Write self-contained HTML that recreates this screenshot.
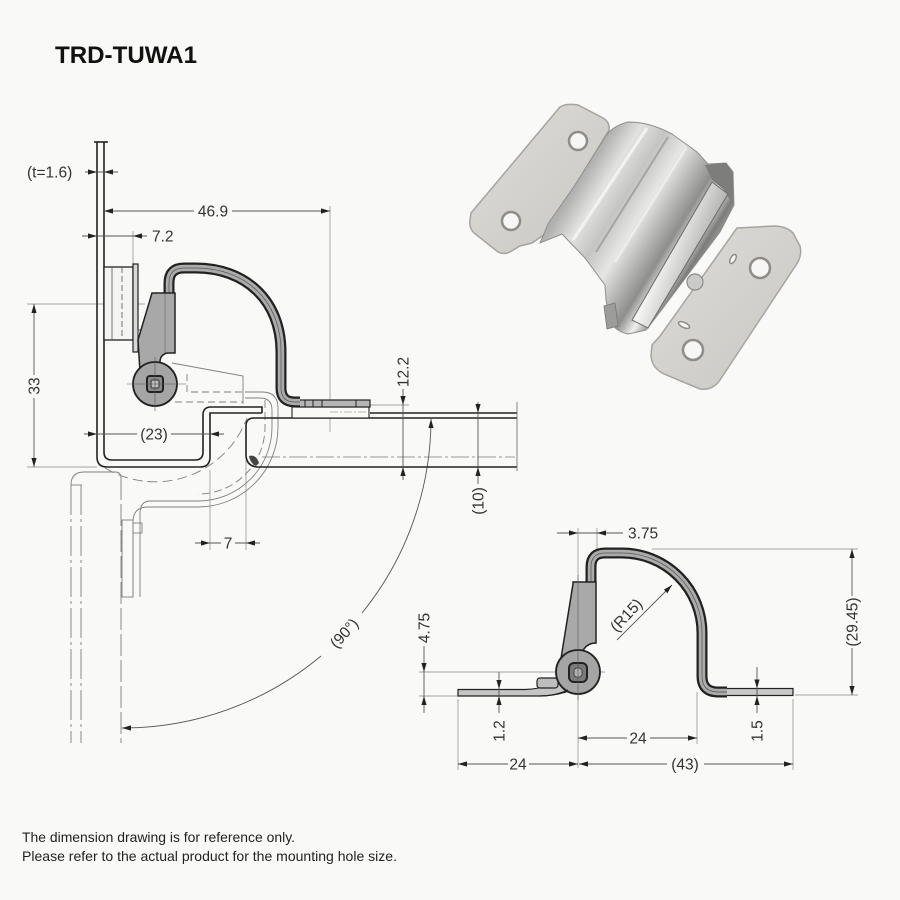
<!DOCTYPE html>
<html><head><meta charset="utf-8">
<style>
html,body{margin:0;padding:0;background:#f9f9f7;}
svg{display:block;}
.t{font-family:"Liberation Sans",Arial,sans-serif;font-size:15.5px;fill:#333;}
.ttl{font-family:"Liberation Sans",Arial,sans-serif;font-size:24px;font-weight:bold;fill:#111;}
.nt{font-family:"Liberation Sans",Arial,sans-serif;font-size:14px;fill:#222;}
.dim{stroke:#555;stroke-width:0.9;fill:none;}
.ext{stroke:#888;stroke-width:0.7;fill:none;}
.ln{stroke:#222;stroke-width:1.6;fill:none;}
.ph{stroke:#808080;stroke-width:0.9;fill:none;}
.ar{fill:#222;}
</style></head><body>
<svg width="900" height="900" viewBox="0 0 900 900" xmlns="http://www.w3.org/2000/svg">
<defs>
<linearGradient id="plate" x1="0" y1="0" x2="1" y2="1">
<stop offset="0" stop-color="#dedcd8"/><stop offset="1" stop-color="#c9c7c2"/>
</linearGradient>
<linearGradient id="body" gradientUnits="userSpaceOnUse" x1="580" y1="180" x2="712" y2="262">
<stop offset="0" stop-color="#b0b0ae"/>
<stop offset="0.15" stop-color="#e2e2e0"/>
<stop offset="0.3" stop-color="#c4c4c2"/>
<stop offset="0.45" stop-color="#e6e6e4"/>
<stop offset="0.58" stop-color="#b8b8b6"/>
<stop offset="0.7" stop-color="#8e8e8c"/>
<stop offset="0.8" stop-color="#f0f0ee"/>
<stop offset="0.9" stop-color="#7c7c7a"/>
<stop offset="1" stop-color="#b0b0ae"/>
</linearGradient>
<linearGradient id="roll" x1="0" y1="0" x2="1" y2="0.6">
<stop offset="0" stop-color="#7f7f7d"/>
<stop offset="0.45" stop-color="#f4f4f2"/>
<stop offset="1" stop-color="#858583"/>
</linearGradient>
</defs>
<rect width="900" height="900" fill="#f9f9f7"/>

<!-- Title -->
<text class="ttl" x="55" y="63" textLength="142" lengthAdjust="spacingAndGlyphs">TRD-TUWA1</text>

<!-- ================= PHOTO ================= -->
<g>
<path d="M560,107 Q566,103 578,105 L603,118 Q610,122 609,130 L548,232 L532,243 L520,246 L510,252 Q504,255 498,252 L474,233 Q469,228 470,220 L471,213 Z" fill="url(#plate)" stroke="#a6a4a0" stroke-width="1.5"/>
<path d="M737,228 L774,226 Q786,226 793,233 L800,246 Q802,254 798,262 L720,380 Q712,391 700,389 L664,374 Q652,368 651,356 L652,345 L660,336 L700,280 Z" fill="url(#plate)" stroke="#a6a4a0" stroke-width="1.5"/>
<path d="M605,137 Q612,126 628,122 Q650,122 672,134 L697,152 L708,164 L726,163 L733,172 L734,205 L720,232 L690,272 L660,312 L646,330 L628,334 Q614,331 610,320 L606,300 L605,285 L585,258 L562,234 L540,243 L548,224 L575,185 Z" fill="url(#body)" stroke="#8e8e8c" stroke-width="1"/>
<path d="M647,128 L573,240" stroke="#f2f2f0" stroke-width="3" fill="none"/>
<path d="M668,137 L596,252" stroke="#a4a4a2" stroke-width="2" fill="none"/>
<path d="M686,148 L615,262" stroke="#ededeb" stroke-width="2.5" fill="none"/>
<path d="M705,165 L726,163 L733,172 L733,205 L724,190 L712,180 Z" fill="#7d7d7b"/>
<path d="M712,182 L728,194 L648,328 L632,320 Z" fill="url(#roll)" stroke="#6a6a68" stroke-width="1"/>
<path d="M604,306 L615,303 L618,326 L607,329 Z" fill="#9c9c9a" stroke="#777" stroke-width="0.8"/>
<circle cx="695" cy="282" r="8" fill="#cacac8" stroke="#8a8a88" stroke-width="1.2"/>
<circle cx="578" cy="141" r="9" fill="#f6f6f4" stroke="#8f8d89" stroke-width="2.5"/>
<circle cx="511" cy="221" r="9" fill="#f6f6f4" stroke="#8f8d89" stroke-width="2.5"/>
<circle cx="760" cy="268" r="10" fill="#f6f6f4" stroke="#8f8d89" stroke-width="2.5"/>
<circle cx="693" cy="350" r="10" fill="#f6f6f4" stroke="#8f8d89" stroke-width="2.5"/>
<ellipse cx="733" cy="259" rx="2.5" ry="5" transform="rotate(30 733 259)" fill="#f6f6f4" stroke="#8f8d89" stroke-width="1.5"/>
<ellipse cx="684" cy="325" rx="6" ry="2.5" transform="rotate(25 684 325)" fill="#f6f6f4" stroke="#8f8d89" stroke-width="1.5"/>
</g>

<!-- ================= LEFT DRAWING ================= -->
<path class="ext" d="M330,206 V432 M133,231 V264 M27,304 H145 M27,467 H97 M210,470 V550 M246,460 V550 M370,405 H409"/>

<path class="ph" d="M71,485 Q71,472 84,472 H115 Q121,472 121,478"/>
<path class="ph" d="M71,485 H82"/>
<path class="ph" d="M71,485 V743" stroke-dasharray="30 4 3 4"/>
<path class="ph" d="M81,485 V743" stroke-dasharray="30 4 3 4"/>
<path class="ph" d="M121,478 V743" stroke-dasharray="22 4"/>
<path class="ph" d="M245,392 H262 Q278,392 278,408 V427 A80,80 0 0 1 198,507 H148 Q133,507 133,522 V597"/>
<path class="ph" d="M245,398 H260 Q272,398 272,410 V427 A74,74 0 0 1 198,501 H150 Q140,501 140,514 V597"/>
<path class="ph" d="M265,400 V427 A67,67 0 0 1 198,494" stroke-dasharray="8 4"/>
<rect class="ph" x="122" y="520" width="11" height="77"/>
<rect class="ph" x="133" y="523" width="9" height="10"/>
<path class="ph" d="M122,520 V560" stroke-dasharray="6 3"/>
<path class="ph" d="M105,468 A98,98 0 0 0 247,418" stroke-dasharray="10 5"/>
<path class="ph" d="M172,363 L243,376 V404"/>
<path class="ph" d="M187,374 V392 H243" stroke-dasharray="7 4"/>
<path class="ph" d="M175,402 H243" stroke-dasharray="7 4"/>

<path class="dim" d="M431,419 A309,309 0 0 1 362,613"/>
<path class="dim" d="M321,656 A309,309 0 0 1 122,728"/>

<path class="ln" d="M94,142 H108" stroke-width="1"/>
<path class="ln" d="M97,142 V457 Q97,467 107,467 H200 Q210,467 210,457 V413 H262"/>
<path class="ln" d="M104,142 V452 Q104,460 112,460 H195 Q203,460 203,452 V415 Q203,407 211,407 H262 V413"/>

<path class="ln" d="M246,456 V426 Q246,418 254,418 H517" stroke-width="1.4"/>
<path class="ln" d="M370,413 H517" stroke-width="1.2"/>
<path class="ln" d="M257,467 H517" stroke-width="1.9"/>
<path class="ln" d="M246,456 Q247,466 257,467" stroke-width="1.6"/>
<path d="M249,456 Q256,454 259,463 L256,466 Q250,463 249,456 Z" fill="#444"/>
<path d="M517,402 V471" stroke="#666" stroke-width="0.8"/>
<path d="M262,457 H515" stroke="#777" stroke-width="0.7" stroke-dasharray="18 3 3 3" fill="none"/>

<rect x="292" y="407" width="77" height="11" fill="#f9f9f7" stroke="#222" stroke-width="1.1"/>
<path d="M330,412 H366" stroke="#777" stroke-width="0.6" stroke-dasharray="8 2 2 2"/>
<rect x="297" y="400" width="73" height="7" fill="#b5b5b5" stroke="#222" stroke-width="1.2"/>
<path d="M305,400 V407 M313,400 V407 M322,400 V407 M356,400 V407" stroke="#222" stroke-width="1"/>

<rect x="104" y="267" width="29" height="73" fill="#f4f4f2" stroke="#222" stroke-width="1.3"/>
<path d="M112,267 V340" stroke="#555" stroke-width="0.8"/>
<path d="M122,267 V340" stroke="#555" stroke-width="0.8" stroke-dasharray="6 3"/>
<rect x="133" y="264" width="5" height="88" fill="#d8d8d8" stroke="#222" stroke-width="1.2"/>
<rect x="138" y="330" width="7" height="18" fill="none" stroke="#444" stroke-width="0.9"/>

<path d="M169,295 V283 Q169,268 184,268 L196,268 C245,268 281,300 281,352 V388 Q281,402 295,402 H300" fill="none" stroke="#222" stroke-width="11"/>
<path d="M169,295 V283 Q169,268 184,268 L196,268 C245,268 281,300 281,352 V388 Q281,402 295,402 H300" fill="none" stroke="#ababab" stroke-width="6.5"/>
<path d="M169,295 V283 Q169,268 184,268 L196,268 C245,268 281,300 281,352 V388 Q281,402 295,402 H300" fill="none" stroke="#555" stroke-width="0.7"/>

<path d="M152,293 H175 V353 H167 Q160,355 160,362 L140,372 L138,340 Z" fill="#a8a8a8" stroke="#222" stroke-width="1.5"/>
<path d="M165,293 V353" stroke="#666" stroke-width="0.6"/>
<circle cx="155" cy="384" r="22" fill="#a5a5a5" stroke="#222" stroke-width="1.8"/>
<rect x="147" y="376" width="16" height="16" rx="3" fill="#8a8a8a" stroke="#222" stroke-width="2"/>
<rect x="151" y="380" width="8" height="8" rx="1.5" fill="#bdbdbd" stroke="#333" stroke-width="1"/>
<path d="M127,384 H186 M155,357 V411" stroke="#555" stroke-width="0.6"/>

<path class="dim" d="M85,172 H118 M104,211 H194 M232,211 H330 M82,236 H147 M34,304 V375 M34,398 V467 M84,434 H137 M171,434 H224 M195,543 H221 M235,543 H260 M403,389 V480 M478,402 V484"/>
<polygon class="ar" points="97,172 88,169.4 88,174.6"/>
<polygon class="ar" points="104,172 113,169.4 113,174.6"/>
<polygon class="ar" points="104,211 113,208.4 113,213.6"/>
<polygon class="ar" points="330,211 321,208.4 321,213.6"/>
<polygon class="ar" points="97,236 88,233.4 88,238.6"/>
<polygon class="ar" points="133,236 142,233.4 142,238.6"/>
<polygon class="ar" points="34,304 31.4,313 36.6,313"/>
<polygon class="ar" points="34,467 31.4,458 36.6,458"/>
<polygon class="ar" points="97,434 88,431.4 88,436.6"/>
<polygon class="ar" points="210,434 219,431.4 219,436.6"/>
<polygon class="ar" points="210,543 201,540.4 201,545.6"/>
<polygon class="ar" points="246,543 255,540.4 255,545.6"/>
<polygon class="ar" points="403,405 400.4,396 405.6,396"/>
<polygon class="ar" points="403,467 400.4,476 405.6,476"/>
<polygon class="ar" points="478,413 475.4,404 480.6,404"/>
<polygon class="ar" points="478,467 475.4,476 480.6,476"/>
<polygon class="ar" points="431,419 428.4,428 433.6,428"/>
<polygon class="ar" points="122,728 131,725.4 131,730.6"/>

<text class="t" x="27" y="177.5">(t=1.6)</text>
<text class="t" x="213" y="216.5" text-anchor="middle">46.9</text>
<text class="t" x="152" y="241.5">7.2</text>
<text class="t" transform="translate(39.5,386) rotate(-90)" text-anchor="middle">33</text>
<text class="t" x="154" y="439.5" text-anchor="middle">(23)</text>
<text class="t" x="228" y="548.5" text-anchor="middle">7</text>
<text class="t" transform="translate(408.5,372) rotate(-90)" text-anchor="middle">12.2</text>
<text class="t" transform="translate(483.5,501) rotate(-90)" text-anchor="middle">(10)</text>
<text class="t" transform="translate(344,633) rotate(-48)" text-anchor="middle" y="5.5">(90°)</text>

<!-- ================= RIGHT DRAWING ================= -->
<path class="ext" d="M578,528 V768 M597,528 V552 M652,549 H858 M795,695 H858 M419,672 H605 M419,696 H458 M697,692 V744 M458,699 V770 M793,699 V770"/>

<path d="M458,689.5 H525 Q540,689 552,684 L562,682 L566,692 Q552,696 540,696 H458 Z" fill="#c5c5c5" stroke="#222" stroke-width="1.2"/>
<rect x="537" y="678" width="21" height="10" rx="3" fill="#bdbdbd" stroke="#222" stroke-width="1.2"/>
<rect x="725" y="688.5" width="68" height="7" fill="#c8c8c8" stroke="#222" stroke-width="1.2"/>

<path d="M591,584 V567 Q591,553 605,553 H622 A80,80 0 0 1 702,633 V676 Q702,692 718,692 H727" fill="none" stroke="#222" stroke-width="11"/>
<path d="M591,584 V567 Q591,553 605,553 H622 A80,80 0 0 1 702,633 V676 Q702,692 718,692 H727" fill="none" stroke="#ababab" stroke-width="6.5"/>
<path d="M591,584 V567 Q591,553 605,553 H622 A80,80 0 0 1 702,633 V676 Q702,692 718,692 H727" fill="none" stroke="#555" stroke-width="0.7"/>

<path d="M573,582 H596 V643 Q588,643 584,649 L558,677 L573,584 Z" fill="#a9a9a9" stroke="#222" stroke-width="1.5"/>
<circle cx="578" cy="672" r="22" fill="#a5a5a5" stroke="#222" stroke-width="1.8"/>
<rect x="569" y="663" width="18" height="19" rx="5" fill="#7a7a7a" stroke="#222" stroke-width="2"/>
<rect x="574" y="668" width="8" height="9" rx="3" fill="#b0b0b0" stroke="#333" stroke-width="0.8"/>
<path d="M578,575 V700" stroke="#555" stroke-width="0.6"/>
<path d="M540,696 Q555,696 568,690" stroke="#222" stroke-width="1.2" fill="none"/>

<path class="dim" d="M557,533 H623 M852,549 V596 M852,648 V695 M424,646 V713 M499,672 V713 M757,667 V713 M578,738 H627 M650,738 H697 M458,764 H508 M529,764 H578 M579,764 H667 M704,764 H793 M617,640 L672,585"/>
<polygon class="ar" points="578,533 569,530.4 569,535.6"/>
<polygon class="ar" points="597,533 606,530.4 606,535.6"/>
<polygon class="ar" points="852,549 849.4,558 854.6,558"/>
<polygon class="ar" points="852,695 849.4,686 854.6,686"/>
<polygon class="ar" points="424,672 421.4,663 426.6,663"/>
<polygon class="ar" points="424,696 421.4,705 426.6,705"/>
<polygon class="ar" points="499,689 496.4,680 501.6,680"/>
<polygon class="ar" points="499,696 496.4,705 501.6,705"/>
<polygon class="ar" points="757,688.5 754.4,679.5 759.6,679.5"/>
<polygon class="ar" points="757,696 754.4,705 759.6,705"/>
<polygon class="ar" points="578,738 587,735.4 587,740.6"/>
<polygon class="ar" points="697,738 688,735.4 688,740.6"/>
<polygon class="ar" points="458,764 467,761.4 467,766.6"/>
<polygon class="ar" points="578,764 569,761.4 569,766.6"/>
<polygon class="ar" points="579,764 588,761.4 588,766.6"/>
<polygon class="ar" points="793,764 784,761.4 784,766.6"/>
<polygon class="ar" points="672,585 663.9,589.6 667.4,593.2"/>

<text class="t" x="628" y="538.5">3.75</text>
<text class="t" transform="translate(857.5,622) rotate(-90)" text-anchor="middle">(29.45)</text>
<text class="t" transform="translate(429.5,628) rotate(-90)" text-anchor="middle">4.75</text>
<text class="t" transform="translate(626,615) rotate(-47)" text-anchor="middle" y="5.5">(R15)</text>
<text class="t" transform="translate(504.5,731) rotate(-90)" text-anchor="middle">1.2</text>
<text class="t" transform="translate(762.5,731) rotate(-90)" text-anchor="middle">1.5</text>
<text class="t" x="638" y="743.5" text-anchor="middle">24</text>
<text class="t" x="518" y="769.5" text-anchor="middle">24</text>
<text class="t" x="685" y="769.5" text-anchor="middle">(43)</text>

<text class="nt" x="22" y="842" textLength="273" lengthAdjust="spacingAndGlyphs">The dimension drawing is for reference only.</text>
<text class="nt" x="22" y="861" textLength="375" lengthAdjust="spacingAndGlyphs">Please refer to the actual product for the mounting hole size.</text>
</svg>
</body></html>
